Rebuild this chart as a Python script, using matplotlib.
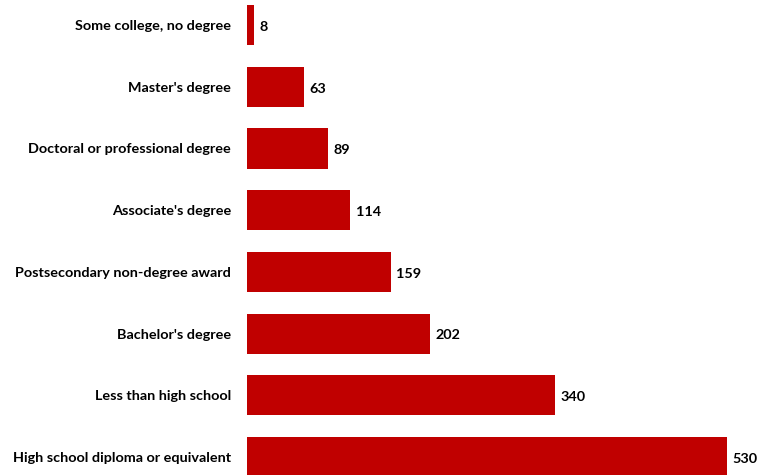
import numpy as np
import matplotlib
matplotlib.use("Agg")
import matplotlib.pyplot as plt

plt.rcParams['font.family'] = ['Lato', 'DejaVu Sans']

categories = ["Some college, no degree", "Master's degree", "Doctoral or professional degree",
              "Associate's degree", "Postsecondary non-degree award", "Bachelor's degree",
              "Less than high school", "High school diploma or equivalent"]
values = [8, 63, 89, 114, 159, 202, 340, 530]

fig = plt.figure(figsize=(7.64, 4.75), dpi=100)
ax = fig.add_axes([247 / 764, 0, 1 - 247 / 764, 1])

y = np.arange(len(categories))
ax.barh(y, values, height=0.65, color='#C00000')

for yi, v in zip(y, values):
    ax.text(v + 6, yi + 0.03, str(v), va='center', ha='left', fontsize=10.4, fontweight='bold', color='black')

ax.set_ylim(7.29, -0.405)
ax.set_xlim(0, 570.8)
ax.set_yticks(y)
ax.set_yticklabels(categories, fontsize=10.4, fontweight='bold')
ax.tick_params(axis='y', length=0, pad=11.5)
ax.set_xticks([])
for s in ax.spines.values():
    s.set_visible(False)

fig.savefig("out.png", dpi=100)
